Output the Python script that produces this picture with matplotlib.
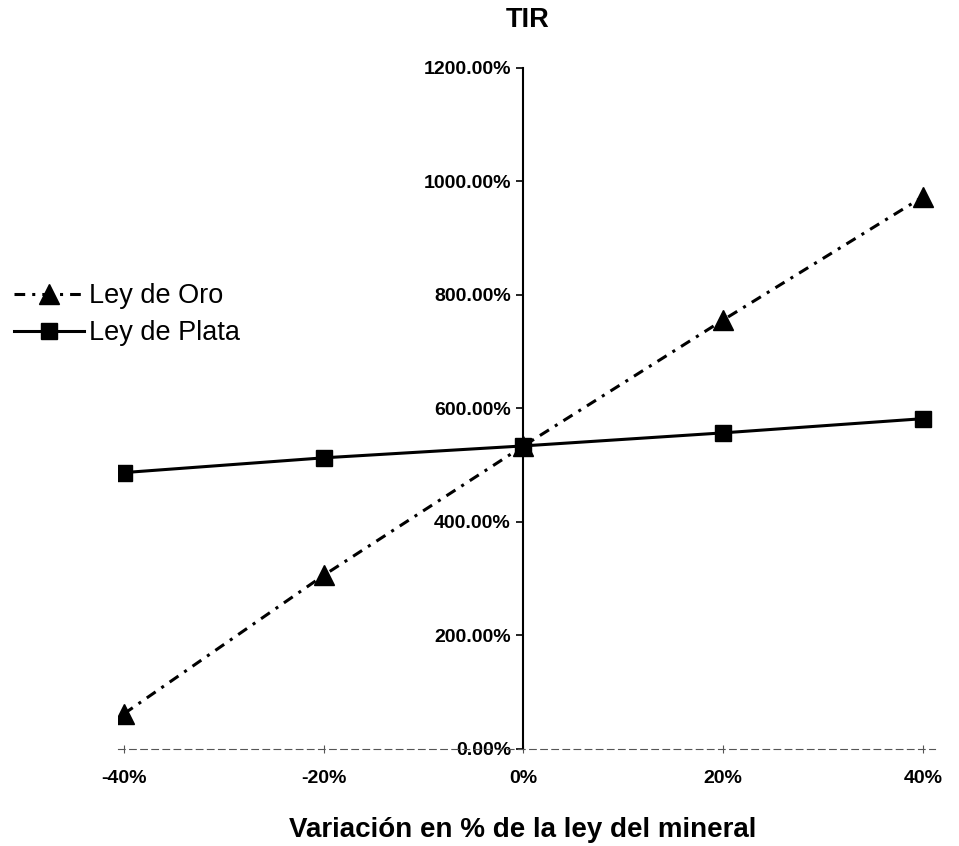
import matplotlib.pyplot as plt
from matplotlib.ticker import FuncFormatter

plt.rcParams['font.family'] = ['Liberation Sans', 'DejaVu Sans']

# Variación en % de la ley del mineral
variacion = [-40, -20, 0, 20, 40]
x_labels = ['-40%', '-20%', '0%', '20%', '40%']

# TIR (%) por escenario
tir_oro = [62, 306, 534, 756, 973]
tir_plata = [487, 513, 534, 557, 582]

y_ticks = [0, 200, 400, 600, 800, 1000, 1200]

fig = plt.figure(figsize=(9.59, 8.46), dpi=100)
ax = fig.add_axes([0.123, 0.1147, 0.852, 0.805])

ax.plot(variacion, tir_oro, color='black', linewidth=2.2,
        linestyle=(0, (3.5, 2.3, 1, 2.3)), marker='^', markersize=15,
        label='Ley de Oro')
ax.plot(variacion, tir_plata, color='black', linewidth=2.2,
        linestyle='-', marker='s', markersize=11.5, label='Ley de Plata')

ax.set_xlim(-40.6, 41.2)
ax.set_ylim(0, 1200)

# ejes cruzados en el origen
for s in ['top', 'right']:
    ax.spines[s].set_visible(False)
ax.spines['left'].set_position(('data', 0))
ax.spines['left'].set_linewidth(1.5)
ax.spines['bottom'].set_linewidth(0.8)
ax.spines['bottom'].set_color('#555555')
ax.spines['bottom'].set_linestyle((0, (6, 4)))

ax.set_yticks(y_ticks)
ax.yaxis.set_major_formatter(FuncFormatter(lambda v, p: f'{v:.2f}%'))
ax.set_xticks(variacion)
ax.set_xticklabels(x_labels)
ax.tick_params(axis='y', direction='out', length=5, width=1.2, pad=4,
               labelsize=14)
ax.tick_params(axis='x', direction='inout', length=6, width=0.8,
               color='#555555', pad=12, labelsize=14)
for lbl in ax.get_xticklabels() + ax.get_yticklabels():
    lbl.set_fontweight('bold')

fig.text(0.55, 0.976, 'TIR', ha='center', va='center',
         fontsize=19.5, fontweight='bold')
fig.text(0.545, 0.011, 'Variación en % de la ley del mineral',
         ha='center', va='baseline', fontsize=20, fontweight='bold')

fig.legend(loc='upper left', bbox_to_anchor=(0.0, 0.681), frameon=False,
           fontsize=19.5, handlelength=2.6, handletextpad=0.2,
           labelspacing=0.4, borderaxespad=0.1)

fig.savefig('out.png', dpi=100)
